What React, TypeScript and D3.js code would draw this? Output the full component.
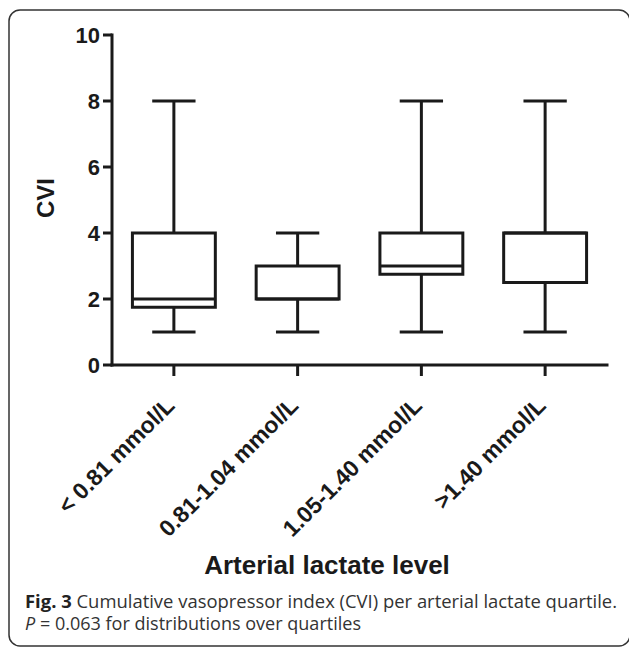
import React from 'react';
import * as d3 from 'd3';

// lactate quartiles and CVI box summaries
const categories = ['< 0.81 mmol/L', '0.81-1.04 mmol/L', '1.05-1.40 mmol/L', '>1.40 mmol/L'];
const mins = [1, 1, 1, 1];
const q1s = [1.75, 2, 2.75, 2.5];
const medians = [2, 2, 3, 4];
const q3s = [4, 3, 4, 4];
const maxs = [8, 4, 8, 8];
const yTicks = [0, 2, 4, 6, 8, 10];

const width = 629;
const height = 647;
const plot = { left: 112, right: 607, top: 35, bottom: 365 };

const App: React.FC = () => {
  const x = d3.scaleBand<string>().domain(categories).range([plot.left, plot.right]).padding(0);
  const y = d3.scaleLinear().domain([0, 10]).range([plot.bottom, plot.top]);

  const bw = x.bandwidth();
  const boxW = bw * 0.67;
  const capW = bw * 0.35;
  const ink = '#1a1a1a';
  const sw = 3;

  return (
    <svg width={width} height={height} style={{ position: 'absolute', left: 0, top: 0 }}>
      <rect x={0} y={0} width={width} height={height} fill="#fff" />
      {/* figure frame */}
      <rect x={9} y={10} width={621} height={636} rx={11} fill="none" stroke="#333" strokeWidth={1.5} />

      {/* boxes */}
      {categories.map((c, i) => {
        const cx = (x(c) ?? 0) + bw / 2;
        return (
          <g key={c} stroke={ink} strokeWidth={sw} fill="none">
            <line x1={cx} x2={cx} y1={y(maxs[i])} y2={y(q3s[i])} />
            <line x1={cx} x2={cx} y1={y(q1s[i])} y2={y(mins[i])} />
            <line x1={cx - capW / 2} x2={cx + capW / 2} y1={y(maxs[i])} y2={y(maxs[i])} />
            <line x1={cx - capW / 2} x2={cx + capW / 2} y1={y(mins[i])} y2={y(mins[i])} />
            <rect x={cx - boxW / 2} y={y(q3s[i])} width={boxW} height={y(q1s[i]) - y(q3s[i])} />
            <line x1={cx - boxW / 2} x2={cx + boxW / 2} y1={y(medians[i])} y2={y(medians[i])} />
          </g>
        );
      })}

      {/* y axis */}
      <g stroke={ink} strokeWidth={sw}>
        <line x1={plot.left} x2={plot.left} y1={plot.top} y2={plot.bottom} strokeLinecap="square" />
        {yTicks.map(t => (
          <line key={t} x1={plot.left - 9} x2={plot.left} y1={y(t)} y2={y(t)} />
        ))}
      </g>
      {yTicks.map(t => (
        <text
          key={t}
          x={plot.left - 12}
          y={y(t)}
          dy="0.36em"
          textAnchor="end"
          fontFamily="Liberation Sans, Arial, sans-serif"
          fontWeight="bold"
          fontSize={22}
          fill={ink}
        >
          {t}
        </text>
      ))}
      <text
        transform={`translate(54,198) rotate(-90)`}
        textAnchor="middle"
        fontFamily="Liberation Sans, Arial, sans-serif"
        fontWeight="bold"
        fontSize={24}
        fill={ink}
      >
        CVI
      </text>

      {/* x axis */}
      <g stroke={ink} strokeWidth={sw}>
        <line x1={plot.left} x2={plot.right} y1={plot.bottom} y2={plot.bottom} strokeLinecap="square" />
        {categories.map(c => {
          const cx = (x(c) ?? 0) + bw / 2;
          return <line key={c} x1={cx} x2={cx} y1={plot.bottom} y2={plot.bottom + 11} />;
        })}
      </g>
      {categories.map(c => {
        const cx = (x(c) ?? 0) + bw / 2;
        return (
          <text
            key={c}
            transform={`translate(${cx + 2},${plot.bottom + 42}) rotate(-45)`}
            textAnchor="end"
            fontFamily="Liberation Sans, Arial, sans-serif"
            fontWeight="bold"
            fontSize={23}
            fill={ink}
          >
            {c}
          </text>
        );
      })}
      <text
        x={327}
        y={574}
        textAnchor="middle"
        fontFamily="Liberation Sans, Arial, sans-serif"
        fontWeight="bold"
        fontSize={26}
        fill={ink}
      >
        Arterial lactate level
      </text>

      {/* caption */}
      <text x={25} y={608} fontFamily="Open Sans, sans-serif" fontSize={18} fill="#333" textLength={592} lengthAdjust="spacingAndGlyphs">
        <tspan fontWeight="bold" fill="#222">Fig. 3</tspan>
        <tspan> Cumulative vasopressor index (CVI) per arterial lactate quartile.</tspan>
      </text>
      <text x={25} y={630} fontFamily="Open Sans, sans-serif" fontSize={18} fill="#333" textLength={336} lengthAdjust="spacingAndGlyphs">
        <tspan fontStyle="italic">P</tspan>
        <tspan> = 0.063 for distributions over quartiles</tspan>
      </text>
    </svg>
  );
};

export default App;
